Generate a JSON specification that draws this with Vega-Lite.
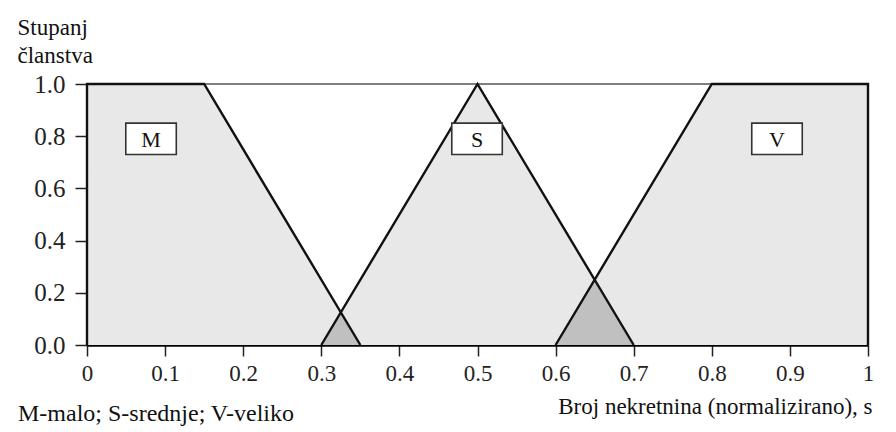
{
  "$schema": "https://vega.github.io/schema/vega-lite/v6.json",
  "width": 781,
  "height": 261,
  "autosize": {"type": "none"},
  "padding": {"left": 87, "top": 84, "right": 28, "bottom": 87},
  "background": "white",
  "config": {
    "font": "Liberation Serif",
    "view": {"stroke": "#555555", "strokeWidth": 1.5}
  },
  "title": {
    "text": "M-malo; S-srednje; V-veliko",
    "orient": "bottom",
    "anchor": "start",
    "frame": "group",
    "font": "Liberation Serif",
    "fontSize": 24,
    "fontWeight": "normal",
    "color": "#111111",
    "dx": -69,
    "dy": -16,
    "offset": 0
  },
  "datasets": {
    "fills": [
      {"set": "M", "x": 0, "mu": 1},
      {"set": "M", "x": 0.15, "mu": 1},
      {"set": "M", "x": 0.35, "mu": 0},
      {"set": "S", "x": 0.3, "mu": 0},
      {"set": "S", "x": 0.5, "mu": 1},
      {"set": "S", "x": 0.7, "mu": 0},
      {"set": "V", "x": 0.6, "mu": 0},
      {"set": "V", "x": 0.8, "mu": 1},
      {"set": "V", "x": 1, "mu": 1}
    ],
    "overlaps": [
      {"pair": "M∩S", "x": 0.3, "mu": 0},
      {"pair": "M∩S", "x": 0.325, "mu": 0.125},
      {"pair": "M∩S", "x": 0.35, "mu": 0},
      {"pair": "S∩V", "x": 0.6, "mu": 0},
      {"pair": "S∩V", "x": 0.65, "mu": 0.25},
      {"pair": "S∩V", "x": 0.7, "mu": 0}
    ],
    "outlines": [
      {"set": "M", "i": 0, "x": 0, "mu": 0},
      {"set": "M", "i": 1, "x": 0, "mu": 1},
      {"set": "M", "i": 2, "x": 0.15, "mu": 1},
      {"set": "M", "i": 3, "x": 0.35, "mu": 0},
      {"set": "S", "i": 0, "x": 0.3, "mu": 0},
      {"set": "S", "i": 1, "x": 0.5, "mu": 1},
      {"set": "S", "i": 2, "x": 0.7, "mu": 0},
      {"set": "V", "i": 0, "x": 0.6, "mu": 0},
      {"set": "V", "i": 1, "x": 0.8, "mu": 1},
      {"set": "V", "i": 2, "x": 1, "mu": 1},
      {"set": "V", "i": 3, "x": 1, "mu": 0}
    ],
    "labels": [
      {"set": "M", "x": 0.082, "mu": 0.79},
      {"set": "S", "x": 0.4994, "mu": 0.79},
      {"set": "V", "x": 0.8835, "mu": 0.79}
    ]
  },
  "layer": [
    {
      "data": {"name": "fills"},
      "mark": {"type": "area", "color": "#e8e8e8", "opacity": 1},
      "encoding": {
        "x": {
          "field": "x", "type": "quantitative",
          "scale": {"domain": [0, 1], "nice": false, "zero": false},
          "axis": {
            "values": [0, 0.1, 0.2, 0.3, 0.4, 0.5, 0.6, 0.7, 0.8, 0.9, 1],
            "format": "~g",
            "grid": false,
            "domainColor": "#000000",
            "domainWidth": 2.5,
            "tickColor": "#222222",
            "tickWidth": 1.5,
            "tickSize": 11,
            "labelFont": "Liberation Serif",
            "labelFontSize": 23,
            "labelColor": "#222222",
            "labelPadding": 6,
            "labelFlush": false,
            "title": "Broj nekretnina (normalizirano), s",
            "titleFont": "Liberation Serif",
            "titleFontSize": 23,
            "titleFontWeight": "normal",
            "titleColor": "#111111",
            "titleAnchor": "end",
            "titleAlign": "right",
            "titleBaseline": "alphabetic",
            "titleX": 785,
            "titleY": 68
          }
        },
        "y": {
          "field": "mu", "type": "quantitative", "stack": null,
          "scale": {"domain": [0, 1], "nice": false},
          "axis": {
            "values": [0, 0.2, 0.4, 0.6, 0.8, 1],
            "format": ".1f",
            "grid": false,
            "domainColor": "#000000",
            "domainWidth": 2,
            "tickColor": "#222222",
            "tickWidth": 1.5,
            "tickSize": 12,
            "labelFont": "Liberation Serif",
            "labelFontSize": 25,
            "labelColor": "#222222",
            "labelPadding": 10,
            "labelFlush": false,
            "title": ["Stupanj", "članstva"],
            "titleFont": "Liberation Serif",
            "titleFontSize": 23,
            "titleFontWeight": "normal",
            "titleColor": "#111111",
            "titleAngle": 0,
            "titleAlign": "left",
            "titleBaseline": "top",
            "titleLineHeight": 28,
            "titleX": -70,
            "titleY": -68
          }
        },
        "detail": {"field": "set"}
      }
    },
    {
      "data": {"name": "overlaps"},
      "mark": {"type": "area", "color": "#c0c0c0", "opacity": 1},
      "encoding": {
        "x": {"field": "x", "type": "quantitative"},
        "y": {"field": "mu", "type": "quantitative", "stack": null},
        "detail": {"field": "pair"}
      }
    },
    {
      "data": {"name": "outlines"},
      "mark": {"type": "line", "color": "#111111", "strokeWidth": 2.4},
      "encoding": {
        "x": {"field": "x", "type": "quantitative"},
        "y": {"field": "mu", "type": "quantitative"},
        "detail": {"field": "set"},
        "order": {"field": "i"}
      }
    },
    {
      "data": {"name": "labels"},
      "mark": {"type": "point", "shape": "M-1,-0.62H1V0.62H-1Z", "size": 2550, "filled": true, "fill": "white", "stroke": "#333333", "strokeWidth": 1.6, "opacity": 1},
      "encoding": {
        "x": {"field": "x", "type": "quantitative"},
        "y": {"field": "mu", "type": "quantitative"}
      }
    },
    {
      "data": {"name": "labels"},
      "mark": {"type": "text", "font": "Liberation Serif", "fontSize": 22, "color": "#111111", "align": "center", "baseline": "middle", "dy": 1},
      "encoding": {
        "x": {"field": "x", "type": "quantitative"},
        "y": {"field": "mu", "type": "quantitative"},
        "text": {"field": "set"}
      }
    }
  ]
}
